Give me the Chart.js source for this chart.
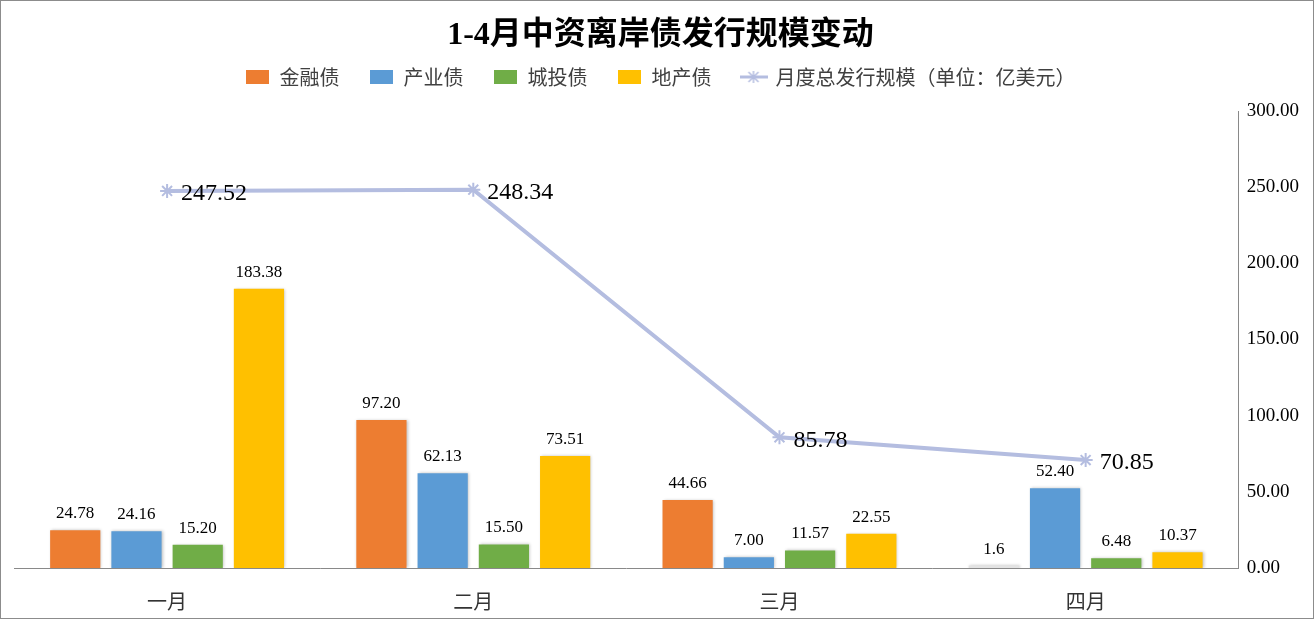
<!DOCTYPE html>
<html>
<head>
<meta charset="utf-8">
<script src="https://cdn.jsdelivr.net/npm/chart.js@4.4.1/dist/chart.umd.min.js"></script>
<style>
  html, body { margin: 0; padding: 0; background: #fff; }
  #wrap { width: 1314px; height: 619px; position: relative; }
</style>
</head>
<body>
<div id="wrap"><canvas id="myChart" width="1314" height="619"></canvas></div>
<script>
// data
var months = ['一月', '二月', '三月', '四月'];
var jinrong = ['24.78', '97.20', '44.66', '1.6'];   // 金融债
var chanye = ['24.16', '62.13', '7.00', '52.40'];   // 产业债
var chengtou = ['15.20', '15.50', '11.57', '6.48']; // 城投债
var dichan = ['183.38', '73.51', '22.55', '10.37']; // 地产债
var total = ['247.52', '248.34', '85.78', '70.85']; // 月度总发行规模
var yTicks = [0, 50, 100, 150, 200, 250, 300];

var serif = "'Times New Roman', 'Liberation Serif', 'Noto Sans CJK SC', serif";
var lineColor = '#b4bde0';

// little canvases used as legend markers
function boxMarker(color) {
    var c = document.createElement('canvas');
    c.width = 23; c.height = 14;
    var g = c.getContext('2d');
    g.fillStyle = color;
    g.fillRect(0, 0, 23, 14);
    return c;
}
function lineMarker() {
    var c = document.createElement('canvas');
    c.width = 28; c.height = 16;
    var g = c.getContext('2d');
    g.strokeStyle = lineColor;
    g.lineWidth = 3;
    g.beginPath(); g.moveTo(0, 8); g.lineTo(28, 8); g.stroke();
    g.lineWidth = 1.5;
    g.beginPath();
    g.moveTo(14, 2); g.lineTo(14, 14);
    g.moveTo(9, 3); g.lineTo(19, 13);
    g.moveTo(19, 3); g.lineTo(9, 13);
    g.stroke();
    return c;
}
var markers = [boxMarker('#ed7d31'), boxMarker('#5b9bd5'), boxMarker('#70ad47'), boxMarker('#ffc000'), lineMarker()];

// value labels on bars and line points
var valueLabels = {
    id: 'valueLabels',
    afterDatasetsDraw: function(chart) {
        var ctx = chart.ctx;
        ctx.save();
        chart.data.datasets.forEach(function(ds, i) {
            var meta = chart.getDatasetMeta(i);
            meta.data.forEach(function(el, j) {
                var txt = ds.data[j];
                ctx.fillStyle = '#000';
                if (ds.type === 'line') {
                    ctx.font = '24px ' + serif;
                    ctx.textAlign = 'left';
                    ctx.textBaseline = 'middle';
                    ctx.fillText(txt, el.x + 14, el.y + 3);
                } else {
                    ctx.font = '17px ' + serif;
                    ctx.textAlign = 'center';
                    ctx.textBaseline = 'bottom';
                    ctx.fillText(txt, el.x, el.y - 8);
                }
            });
        });
        ctx.restore();
    }
};

// soft shadow under the bars
var barShadow = {
    id: 'barShadow',
    beforeDatasetDraw: function(chart, args) {
        if (args.meta.type === 'bar') {
            var ctx = chart.ctx;
            ctx.save();
            ctx.shadowColor = 'rgba(0,0,0,0.25)';
            ctx.shadowBlur = 3;
            ctx.shadowOffsetX = 1;
            ctx.shadowOffsetY = 0;
        }
    },
    afterDatasetDraw: function(chart, args) {
        if (args.meta.type === 'bar') chart.ctx.restore();
    }
};

// extra room between legend and plot
var legendGap = {
    id: 'legendGap',
    afterInit: function(chart) {
        var lg = chart.legend;
        if (!lg) return;
        var fit = lg.fit;
        lg.fit = function() {
            fit.call(this);
            this.height += 14;
        };
    }
};

var frame = {
    id: 'frame',
    afterDraw: function(chart) {
        var ctx = chart.ctx;
        ctx.save();
        ctx.strokeStyle = '#8c8c8c';
        ctx.lineWidth = 1;
        ctx.strokeRect(0.5, 0.5, chart.width - 1, chart.height - 1);
        ctx.restore();
    }
};

var ctx = document.getElementById('myChart').getContext('2d');
var chart = new Chart(ctx, {
    type: 'bar',
    data: {
        labels: months,
        datasets: [{
            label: '月度总发行规模（单位：亿美元）',
            type: 'line',
            data: total,
            borderColor: lineColor,
            backgroundColor: lineColor,
            borderWidth: 4,
            pointStyle: 'star',
            pointRadius: 7,
            pointBorderWidth: 2,
            order: 0
        }, {
            label: '金融债',
            data: jinrong,
            backgroundColor: ['#ed7d31', '#ed7d31', '#ed7d31', '#e3e3e3'],
            order: 1
        }, {
            label: '产业债',
            data: chanye,
            backgroundColor: '#5b9bd5',
            order: 1
        }, {
            label: '城投债',
            data: chengtou,
            backgroundColor: '#70ad47',
            order: 1
        }, {
            label: '地产债',
            data: dichan,
            backgroundColor: '#ffc000',
            order: 1
        }]
    },
    options: {
        responsive: false,
        animation: false,
        layout: { padding: { left: 14, right: 7, top: 0, bottom: -21 } },
        datasets: {
            bar: { barPercentage: 0.82, categoryPercentage: 0.8 }
        },
        plugins: {
            title: {
                display: true,
                text: '1-4月中资离岸债发行规模变动',
                color: '#000',
                font: { family: serif, size: 32, weight: 'bold', lineHeight: 1 },
                padding: { top: 20, bottom: -15 }
            },
            legend: {
                display: true,
                labels: {
                    usePointStyle: true,
                    pointStyleWidth: 24,
                    boxHeight: 14,
                    padding: 30,
                    color: '#404040',
                    font: { family: "'Noto Sans CJK SC', sans-serif", size: 20 },
                    generateLabels: function(chart) {
                        var items = Chart.defaults.plugins.legend.labels.generateLabels(chart);
                        items.forEach(function(it) {
                            it.pointStyle = markers[it.datasetIndex === 0 ? 4 : it.datasetIndex - 1];
                        });
                        // bars first, line last
                        items.push(items.shift());
                        return items;
                    }
                }
            },
            tooltip: { enabled: false }
        },
        scales: {
            x: {
                grid: { display: false, drawTicks: false },
                border: { display: true, color: '#898989', width: 1 },
                ticks: { color: '#333', font: { family: serif, size: 20 }, padding: 24 }
            },
            y: {
                position: 'right',
                min: 0,
                max: 300,
                afterBuildTicks: function(axis) {
                    axis.ticks = yTicks.map(function(v) { return { value: v }; });
                },
                grid: { display: false, drawTicks: false },
                border: { display: true, color: '#898989', width: 1 },
                ticks: {
                    color: '#000',
                    padding: 8,
                    font: { family: serif, size: 19 },
                    callback: function(v) { return Number(v).toFixed(2); }
                }
            }
        }
    },
    plugins: [valueLabels, barShadow, legendGap, frame]
});
</script>
</body>
</html>
